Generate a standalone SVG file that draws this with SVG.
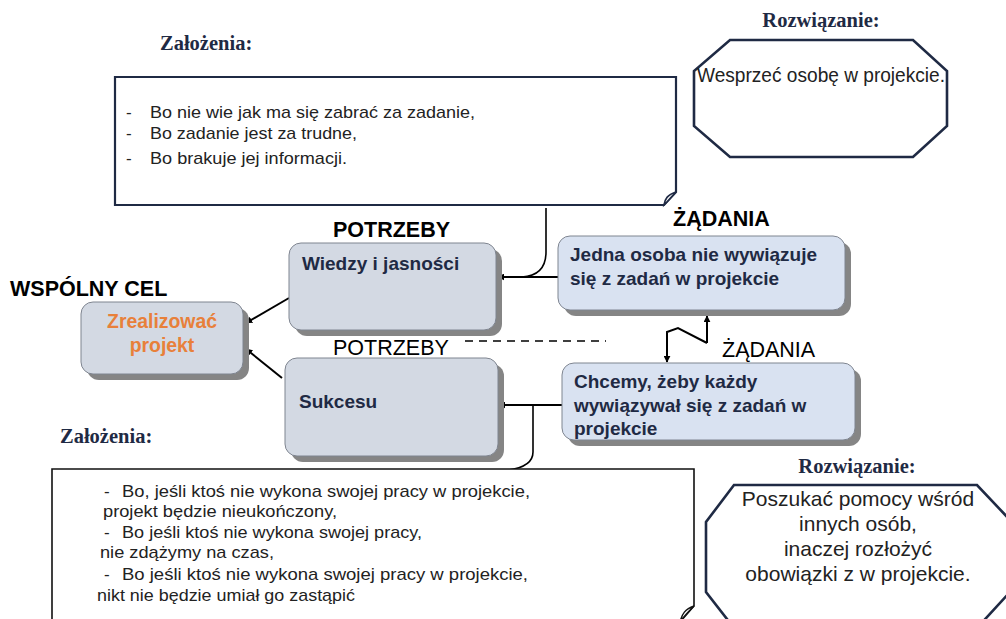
<svg xmlns="http://www.w3.org/2000/svg" width="1006" height="619" viewBox="0 0 1006 619">
  <defs>
    <marker id="arr" viewBox="0 0 10 10" refX="9" refY="5" markerWidth="7" markerHeight="7" markerUnits="userSpaceOnUse" orient="auto">
      <path d="M0,0 L10,5 L0,10 Z" fill="#000"/>
    </marker>
    <style>
      .sans { font-family: "Liberation Sans", Arial, sans-serif; }
      .hdr { font-family: "Liberation Serif", "Times New Roman", serif; font-weight: bold; font-size: 20.5px; fill: #1f2a44; }
      .lbl { font-family: "Liberation Sans", Arial, sans-serif; font-size: 21.5px; fill: #000; }
      .b { font-weight: bold; }
      .note { fill: #fff; stroke: #1f2a44; stroke-width: 2.2; }
      .note2 { fill: #fff; stroke: #111; stroke-width: 1.6; }
      .oct { fill: #fff; stroke: #1f2a44; stroke-width: 2.6; stroke-linejoin: miter; }
      .shadow { fill: #858585; }
      .boxA { fill: #d3d9e3; stroke: #7f8590; stroke-width: 1; }
      .boxB { fill: #d9e2f1; stroke: #7f8590; stroke-width: 1; }
      .nodeText { font-family: "Liberation Sans", Arial, sans-serif; font-weight: bold; font-size: 19px; fill: #1f2a44; }
      .noteText { font-family: "Liberation Sans", Arial, sans-serif; font-size: 17px; fill: #222; }
      .conn { fill: none; stroke: #000; stroke-width: 2; }
      .thin { fill: none; stroke: #000; stroke-width: 1.6; }
    </style>
  </defs>

  <rect width="1006" height="619" fill="#fff"/>

  <!-- Assumptions note (top) -->
  <g id="note-top">
    <text class="hdr" x="160" y="50">Założenia:</text>
    <path class="note" d="M115,77 H676 V192 L664,205 H115 Z"/>
    <path d="M664,205 C665,199 667,195 676,192 C671,197 668,201 664,205 Z" fill="#fff" stroke="#1f2a44" stroke-width="1.6"/>
    <g class="noteText">
      <text x="126" y="118">-</text><text x="150" y="118" textLength="325" lengthAdjust="spacingAndGlyphs">Bo nie wie jak ma się zabrać za zadanie,</text>
      <text x="126" y="139">-</text><text x="150" y="139" textLength="207" lengthAdjust="spacingAndGlyphs">Bo zadanie jest za trudne,</text>
      <text x="126" y="164">-</text><text x="150" y="164" textLength="197" lengthAdjust="spacingAndGlyphs">Bo brakuje jej informacji.</text>
    </g>
  </g>

  <!-- Solution octagon (top) -->
  <g id="solution-top">
    <text class="hdr" x="821" y="27" text-anchor="middle">Rozwiązanie:</text>
    <path class="oct" d="M730,40 H913 L947,71 V126 L913,157 H730 L694,126 V71 Z"/>
    <text class="sans" x="697" y="82" font-size="19.5" fill="#222" textLength="248" lengthAdjust="spacingAndGlyphs">Wesprzeć osobę w projekcie.</text>
  </g>

  <!-- Connectors -->
  <g id="connectors">
    <path class="conn" d="M558,277 H498" marker-end="url(#arr)"/>
    <path class="thin" d="M546,208 V252 C546,268 538,276 522,277"/>
    <path class="conn" d="M562,405 H499" marker-end="url(#arr)"/>
    <path class="thin" d="M533,405 V452 C533,462 524,468 508,470"/>
    <path class="conn" d="M289,298 L246,323" marker-end="url(#arr)"/>
    <path class="conn" d="M282,378 L246,349" marker-end="url(#arr)"/>
    <path class="conn" d="M707,343 V316" marker-end="url(#arr)"/>
    <path class="conn" d="M707,343 L678,328 L667,332 V362" marker-end="url(#arr)"/>
    <path d="M465,341 H606" fill="none" stroke="#000" stroke-width="1.5" stroke-dasharray="8,6"/>
  </g>

  <!-- Needs: knowledge -->
  <g id="need-knowledge">
    <text class="lbl b" x="333" y="237">POTRZEBY</text>
    <rect class="shadow" x="295" y="249" width="207" height="87" rx="12"/>
    <rect class="boxA" x="289" y="243" width="207" height="87" rx="12"/>
    <text class="nodeText" x="302" y="270">Wiedzy i jasności</text>
  </g>

  <!-- Common goal -->
  <g id="goal">
    <text class="lbl b" x="10" y="296">WSPÓLNY CEL</text>
    <rect class="shadow" x="87" y="308" width="162" height="72" rx="12"/>
    <rect class="boxA" x="81" y="302" width="162" height="72" rx="12"/>
    <text class="sans b" x="162" y="328" font-size="19.4" fill="#e8803a" text-anchor="middle">Zrealizować</text>
    <text class="sans b" x="162" y="352" font-size="19.4" fill="#e8803a" text-anchor="middle">projekt</text>
  </g>

  <!-- Needs: success -->
  <g id="need-success">
    <text class="lbl" x="333" y="355">POTRZEBY</text>
    <rect class="shadow" x="291" y="364" width="213" height="98" rx="12"/>
    <rect class="boxA" x="285" y="358" width="213" height="98" rx="12"/>
    <text class="nodeText" x="299" y="408">Sukcesu</text>
  </g>

  <!-- Demand 1 -->
  <g id="demand-1">
    <text class="lbl b" x="673" y="226">ŻĄDANIA</text>
    <rect class="shadow" x="564" y="242" width="287" height="74" rx="12"/>
    <rect class="boxB" x="558" y="236" width="287" height="74" rx="12"/>
    <text class="nodeText" x="570" y="261">Jedna osoba nie wywiązuje</text>
    <text class="nodeText" x="570" y="285">się z zadań w projekcie</text>
  </g>

  <!-- Demand 2 -->
  <g id="demand-2">
    <text class="lbl" x="722" y="357">ŻĄDANIA</text>
    <rect class="shadow" x="568" y="369" width="293" height="77" rx="12"/>
    <rect class="boxB" x="562" y="363" width="293" height="77" rx="12"/>
    <text class="nodeText" x="574" y="388">Chcemy, żeby każdy</text>
    <text class="nodeText" x="574" y="412">wywiązywał się z zadań w</text>
    <text class="nodeText" x="574" y="435">projekcie</text>
  </g>

  <!-- Assumptions note (bottom) -->
  <g id="note-bottom">
    <text class="hdr" x="60" y="443">Założenia:</text>
    <path class="note2" d="M52,469 H694 V606 L680,622 H52 Z"/>
    <path d="M680,622 C682,614 685,609 694,606 C689,611 684,616 680,622 Z" fill="#fff" stroke="#111" stroke-width="1.4"/>
    <g class="noteText">
      <text x="104" y="497">-</text><text x="122" y="497" textLength="408" lengthAdjust="spacingAndGlyphs">Bo, jeśli ktoś nie wykona swojej pracy w projekcie,</text>
      <text x="103" y="517" textLength="234" lengthAdjust="spacingAndGlyphs">projekt będzie nieukończony,</text>
      <text x="104" y="538">-</text><text x="122" y="538" textLength="300" lengthAdjust="spacingAndGlyphs">Bo jeśli ktoś nie wykona swojej pracy,</text>
      <text x="100" y="558" textLength="174" lengthAdjust="spacingAndGlyphs">nie zdążymy na czas,</text>
      <text x="104" y="580">-</text><text x="122" y="580" textLength="406" lengthAdjust="spacingAndGlyphs">Bo jeśli ktoś nie wykona swojej pracy w projekcie,</text>
      <text x="97" y="601" textLength="258" lengthAdjust="spacingAndGlyphs">nikt nie będzie umiał go zastąpić</text>
    </g>
  </g>

  <!-- Solution octagon (bottom) -->
  <g id="solution-bottom">
    <text class="hdr" x="857" y="473" text-anchor="middle">Rozwiązanie:</text>
    <path class="oct" d="M734,485 H977 L1010,520 V592 L977,628 H734 L706,592 V522 Z"/>
    <g class="sans" font-size="21" fill="#222" text-anchor="middle">
      <text x="858" y="506">Poszukać pomocy wśród</text>
      <text x="858" y="531">innych osób,</text>
      <text x="858" y="556">inaczej rozłożyć</text>
      <text x="858" y="581">obowiązki z w projekcie.</text>
    </g>
  </g>
</svg>
